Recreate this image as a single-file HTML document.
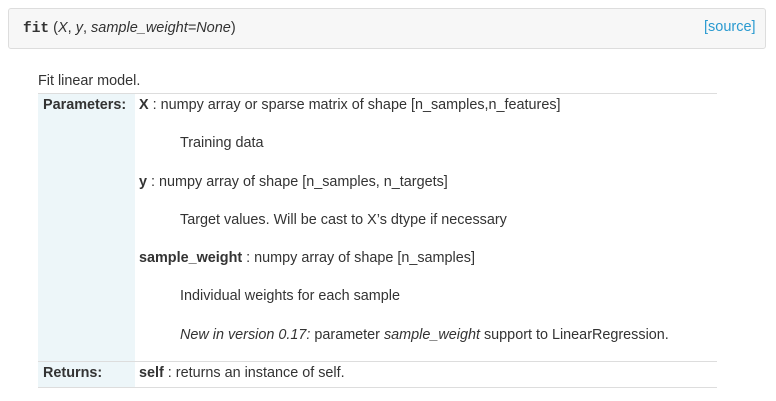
<!DOCTYPE html>
<html><head><meta charset="utf-8"><style>
html,body{margin:0;padding:0;background:#fff;width:776px;height:401px;overflow:hidden;font-family:"Liberation Sans",sans-serif;font-size:14.4px;color:#333}
.hdr{position:absolute;left:8px;top:8px;width:756px;height:39px;background:#f7f7f7;border:1px solid #ddd;border-radius:3px}
.t{position:absolute;white-space:nowrap;line-height:16px}
.fit{font-family:"Liberation Mono",monospace;font-weight:bold;font-size:14.5px}
.src{color:#2a9ad0}
.line{position:absolute;left:38px;width:679px;height:1px;background:#ddd}
.lc{position:absolute;left:38px;width:97px;background:#edf6f9}
i{font-style:italic}
</style></head><body>
<div class="hdr"></div>
<div class="t" style="left:23px;top:20px;font-size:14.5px"><span class="fit">fit</span> (<i>X</i>, <i>y</i>, <i>sample_weight=None</i>)</div>
<div class="t src" style="left:704px;top:19px;font-size:14.5px">[source]</div>
<div class="t" style="left:38px;top:73px">Fit linear model.</div>
<div class="lc" style="top:93px;height:268px"></div>
<div class="lc" style="top:362px;height:25px"></div>
<div class="line" style="top:93px"></div>
<div class="line" style="top:361px"></div>
<div class="line" style="top:387px"></div>
<div class="t" style="left:43px;top:97px;font-weight:bold">Parameters:</div>
<div class="t" style="left:139px;top:97px"><b>X</b> : numpy array or sparse matrix of shape [n_samples,n_features]</div>
<div class="t" style="left:180px;top:135px">Training data</div>
<div class="t" style="left:139px;top:174px"><b>y</b> : numpy array of shape [n_samples, n_targets]</div>
<div class="t" style="left:180px;top:212px">Target values. Will be cast to X’s dtype if necessary</div>
<div class="t" style="left:139px;top:250px"><b>sample_weight</b> : numpy array of shape [n_samples]</div>
<div class="t" style="left:180px;top:288px">Individual weights for each sample</div>
<div class="t" style="left:180px;top:327px"><i>New in version 0.17:</i> parameter <i>sample_weight</i> support to LinearRegression.</div>
<div class="t" style="left:43px;top:365px;font-weight:bold">Returns:</div>
<div class="t" style="left:139px;top:365px"><b>self</b> : returns an instance of self.</div>
</body></html>
